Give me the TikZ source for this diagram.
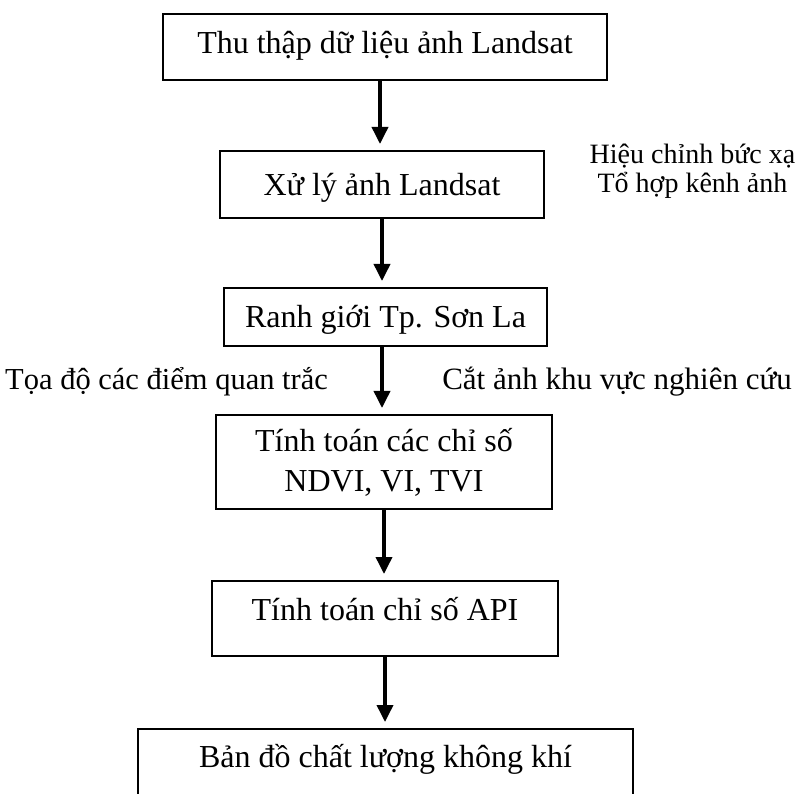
\documentclass[tikz,border=0pt]{standalone}
\usepackage{fontspec}
\setmainfont{Liberation Serif}
\usetikzlibrary{arrows.meta,positioning}
\tikzset{
    >=Latex,
    block/.style={draw=black, line width=1.8pt, anchor=north, align=center, inner xsep=0pt, inner ysep=0pt},
    flowarrow/.style={-{Triangle[length=17pt,width=16pt]}, line width=3.6pt, draw=black, shorten >=6pt},
    note/.style={align=center, inner sep=0pt}
}

\begin{document}
\begin{tikzpicture}[x=1pt, y=-1pt, font=\fontsize{32}{40}\selectfont]
\clip (0,0) rectangle (801,794);
\node[block, minimum width=444pt, text height=40pt, text depth=26pt] (collect) at (385,13) {Thu thập dữ liệu ảnh Landsat};
\node[block, minimum width=324pt, text height=45pt, text depth=22pt] (process) at (382,150) {Xử lý ảnh Landsat};
\node[block, minimum width=323pt, text height=40pt, text depth=18pt] (boundary) at (385.5,287) {Ranh giới Tp. Sơn La};
\node[block, minimum width=336pt, minimum height=94pt] (indices) at (384,414) {Tính toán các chỉ số\\NDVI, VI, TVI};
\node[block, minimum width=346pt, text height=40pt, text depth=35pt] (api) at (385,580) {Tính toán chỉ số API};
\node[block, minimum width=495pt, text height=39pt, text depth=70pt] (airmap) at (385.5,728) {Bản đồ chất lượng không khí};

\draw[flowarrow] ([xshift=-5pt]collect.south) -- ([xshift=-5pt]collect.south |- process.north);
\draw[flowarrow] (process.south) -- (process.south |- boundary.north);
\draw[flowarrow] ([xshift=-3.5pt]boundary.south) -- ([xshift=-3.5pt]boundary.south |- indices.north);
\draw[flowarrow] (indices.south) -- (indices.south |- api.north);
\draw[flowarrow] (api.south) -- (api.south |- airmap.north);

% side notes
\node[note, font=\fontsize{28}{29}\selectfont] (steps) at (692.5,171) {Hiệu chỉnh bức xạ\\Tổ hợp kênh ảnh};
\node[note, anchor=base west, font=\fontsize{30.5}{36}\selectfont] (coords) at (5,390) {Tọa độ các điểm quan trắc};
\node[note, anchor=base east, font=\fontsize{31}{36}\selectfont] (cutting) at (792,390) {Cắt ảnh khu vực nghiên cứu};
\end{tikzpicture}
\end{document}
